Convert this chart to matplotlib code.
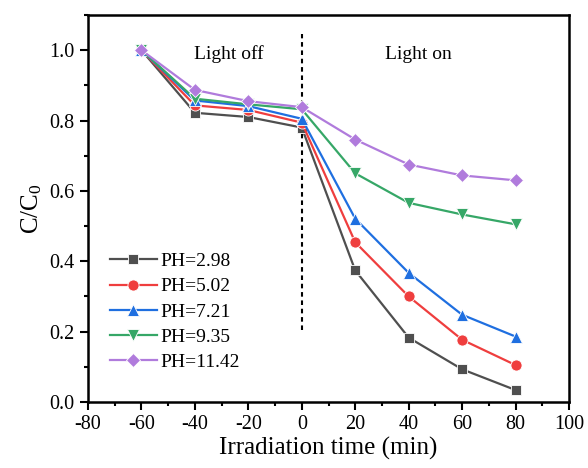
import matplotlib
matplotlib.use("Agg")
import matplotlib.pyplot as plt
from matplotlib.ticker import MultipleLocator

plt.rcParams['font.family'] = ['Liberation Serif', 'DejaVu Serif']
plt.rcParams['mathtext.fontset'] = 'custom'
plt.rcParams['mathtext.rm'] = 'Liberation Serif'
plt.rcParams['mathtext.it'] = 'Liberation Serif'
plt.rcParams['axes.unicode_minus'] = False

time = [-60, -40, -20, 0, 20, 40, 60, 80]
ph_298 = [1.0, 0.822, 0.810, 0.780, 0.374, 0.183, 0.093, 0.034]
ph_502 = [1.0, 0.843, 0.830, 0.794, 0.454, 0.300, 0.177, 0.105]
ph_721 = [1.0, 0.857, 0.841, 0.805, 0.521, 0.367, 0.248, 0.186]
ph_935 = [1.0, 0.862, 0.846, 0.832, 0.650, 0.566, 0.533, 0.505]
ph_1142 = [1.0, 0.887, 0.855, 0.838, 0.746, 0.675, 0.644, 0.630]
labels = ['PH=2.98', 'PH=5.02', 'PH=7.21', 'PH=9.35', 'PH=11.42']
series = [ph_298, ph_502, ph_721, ph_935, ph_1142]
colors = ['#4f4f4f', '#ef3e3e', '#1f6fe0', '#36a767', '#b07bdc']
markers = ['s', 'o', '^', 'v', 'D']
msizes = [7, 8, 8.5, 8.5, 7.5]

fig = plt.figure(figsize=(5.88, 4.68), dpi=100)
ax = fig.add_axes([0.1497, 0.141, 0.818, 0.827])

for y, lab, c, m, ms in zip(series, labels, colors, markers, msizes):
    ax.plot(time, y, color=c, marker=m, markersize=ms, lw=1.6,
            markeredgecolor='white', markeredgewidth=0.6, label=lab)

ax.plot([0, 0], [0.205, 1.045], color='black', ls=(0, (2.2, 1.8)), lw=1.5, zorder=1)

ax.text(-27.4, 0.989, 'Light off', fontsize=14, ha='center', va='center')
ax.text(43.5, 0.989, 'Light on', fontsize=14, ha='center', va='center')

ax.set_xlim(-80, 100)
ax.set_ylim(0, 1.1)
ax.xaxis.set_major_locator(MultipleLocator(20))
ax.xaxis.set_minor_locator(MultipleLocator(10))
ax.yaxis.set_major_locator(MultipleLocator(0.2))
ax.yaxis.set_minor_locator(MultipleLocator(0.1))
ax.yaxis.set_major_formatter(matplotlib.ticker.FormatStrFormatter('%.1f'))
ax.tick_params(which='major', direction='out', length=6, width=1.5, labelsize=14.5)
ax.tick_params(which='minor', direction='out', length=3, width=1.5)
for s in ax.spines.values():
    s.set_linewidth(1.8)

ax.set_xlabel('Irradiation time (min)', fontsize=18, labelpad=2)
ax.set_ylabel(r'C/C$_0$', fontsize=18, labelpad=4)

ax.legend(loc='lower left', bbox_to_anchor=(0.0295, 0.06), frameon=False, fontsize=14,
          handlelength=2.4, handletextpad=0.2, labelspacing=0.39, borderaxespad=0.0)

fig.savefig('out.png', dpi=100)
